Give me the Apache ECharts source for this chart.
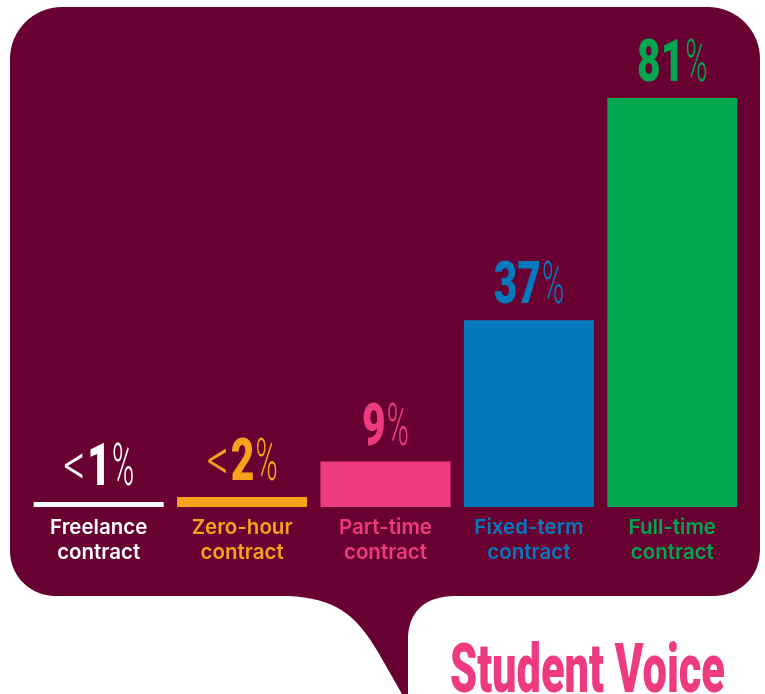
<!DOCTYPE html>
<html>
<head>
<meta charset="utf-8">
<style>
  html, body { margin: 0; padding: 0; background: #ffffff; }
  #chart { width: 765px; height: 694px; }
</style>
<script src="https://cdn.jsdelivr.net/npm/echarts@6/dist/echarts.min.js"></script>
</head>
<body>
<div id="chart"></div>
<script>
// Contract types held by students, share of respondents (%)
const categories = ['Freelance\ncontract', 'Zero-hour\ncontract', 'Part-time\ncontract', 'Fixed-term\ncontract', 'Full-time\ncontract'];
const values = [1, 2, 9, 37, 81];
const prefixes = ['<', '<', '', '', ''];
const colors = ['#ffffff', '#f8a21c', '#ee3a80', '#0479bb', '#00a650'];

const BUBBLE = '#690032';
const NUM_FONT = 'Roboto, "Liberation Sans", sans-serif';

// text measuring helper for the condensed value labels
const measureCtx = document.createElement('canvas').getContext('2d');
function textWidth(str, weight, size, family) {
  measureCtx.font = weight + ' ' + size + 'px ' + family;
  return measureCtx.measureText(str).width;
}

const LABEL_SIZE = 60;
const SCALE_NUM = 0.68, SCALE_PCT = 0.5, SCALE_LT = 0.72;

function renderValueLabel(params, api) {
  const i = params.dataIndex;
  const v = api.value(1);
  const top = api.coord([api.value(0), v]);
  const cx = top[0];
  const baseY = top[1] - 2;
  const color = colors[i];
  const pre = prefixes[i];
  const num = String(v);
  const wPre = pre ? textWidth(pre, '300', LABEL_SIZE, NUM_FONT) * SCALE_LT + 2 : 0;
  const wNum = textWidth(num, '900', LABEL_SIZE, NUM_FONT) * SCALE_NUM;
  const wPct = textWidth('%', '300', LABEL_SIZE, NUM_FONT) * SCALE_PCT;
  let x = cx - (wPre + wNum + wPct + 1) / 2;
  const children = [];
  if (pre) {
    children.push({
      type: 'text', x: x, y: baseY, scaleX: SCALE_LT,
      style: { text: pre, fontFamily: NUM_FONT, fontWeight: 300, fontSize: LABEL_SIZE, fill: color, align: 'left', verticalAlign: 'bottom' }
    });
    x += wPre;
  }
  children.push({
    type: 'text', x: x, y: baseY, scaleX: SCALE_NUM,
    style: { text: num, fontFamily: NUM_FONT, fontWeight: 900, fontSize: LABEL_SIZE, fill: color, align: 'left', verticalAlign: 'bottom' }
  });
  x += wNum + 1;
  children.push({
    type: 'text', x: x, y: baseY, scaleX: SCALE_PCT,
    style: { text: '%', fontFamily: NUM_FONT, fontWeight: 300, fontSize: LABEL_SIZE, fill: color, align: 'left', verticalAlign: 'bottom' }
  });
  return { type: 'group', children: children };
}

// speech bubble behind the chart
const bubblePath =
  'M 60 7 L 708 7 A 52 52 0 0 1 760 59 L 760 551 A 45 45 0 0 1 715 596 ' +
  'L 455 596 C 425 596 408 612 408 640 L 408 694 L 402 694 L 378 652 ' +
  'C 356 614 334 598 288 596 L 55 596 A 45 45 0 0 1 10 551 L 10 59 A 52 52 0 0 1 62 7 Z';

function renderBubble() {
  return { type: 'path', shape: { pathData: bubblePath }, style: { fill: BUBBLE } };
}

const brand = 'Student Voice';
const BRAND_SIZE = 68;
const brandScale = 275 / textWidth(brand, '900', BRAND_SIZE, NUM_FONT);

const chart = echarts.init(document.getElementById('chart'), null, { renderer: 'canvas' });
chart.setOption({
  animation: false,
  backgroundColor: '#ffffff',
  graphic: [
    {
      type: 'text', x: 450, y: 641, scaleX: brandScale, silent: true,
      style: { text: brand, fontFamily: NUM_FONT, fontWeight: 900, fontSize: BRAND_SIZE, fill: '#ee3a80' }
    }
  ],
  grid: { left: 27, right: 21, top: 2, bottom: 187 },
  xAxis: {
    type: 'category',
    data: categories,
    axisLine: { show: false },
    axisTick: { show: false },
    axisLabel: {
      margin: 8,
      interval: 0,
      fontFamily: 'Inter, Roboto, sans-serif',
      fontWeight: 600,
      fontSize: 20.5,
      lineHeight: 25,
      color: (val, idx) => colors[idx]
    }
  },
  yAxis: { type: 'value', min: 0, max: 100, show: false, splitLine: { show: false } },
  series: [
    {
      type: 'custom',
      coordinateSystem: 'none',
      silent: true,
      z: -10,
      data: [[0]],
      renderItem: renderBubble
    },
    {
      type: 'bar',
      barWidth: 130,
      data: values.map((v, i) => ({ value: v, itemStyle: { color: colors[i] } })),
      silent: true
    },
    {
      type: 'custom',
      silent: true,
      z: 5,
      data: values.map((v, i) => [i, v]),
      renderItem: renderValueLabel
    }
  ]
});
</script>
</body>
</html>
